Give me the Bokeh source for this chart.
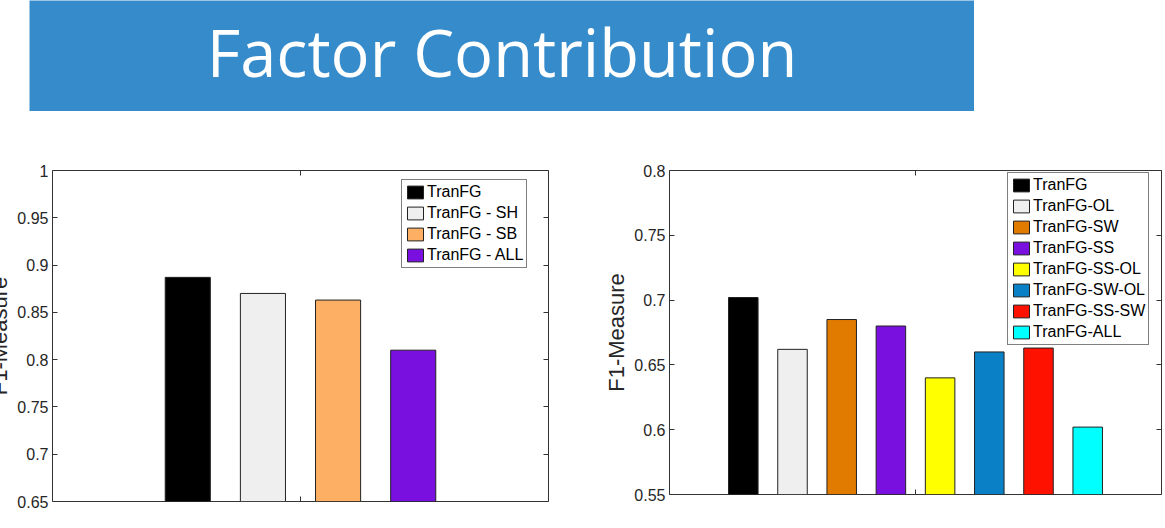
from bokeh.plotting import figure
from bokeh.layouts import column, row
from bokeh.models import (Range1d, FixedTicker, LinearAxis, Label, Spacer,
                          ColumnDataSource)
from bokeh.embed import file_html
from bokeh.resources import INLINE

# ---- data -------------------------------------------------------------
title_text = "Factor Contribution"
y_label = "F1-Measure"

left_names = ["TranFG", "TranFG - SH", "TranFG - SB", "TranFG - ALL"]
left_values = [0.887, 0.870, 0.863, 0.810]
left_colors = ["#000000", "#EFEFEF", "#FDB063", "#7A10E0"]
left_ticks = [0.65, 0.7, 0.75, 0.8, 0.85, 0.9, 0.95, 1.0]
left_tick_labels = ["0.65", "0.7", "0.75", "0.8", "0.85", "0.9", "0.95", "1"]

right_names = ["TranFG", "TranFG-OL", "TranFG-SW", "TranFG-SS",
               "TranFG-SS-OL", "TranFG-SW-OL", "TranFG-SS-SW", "TranFG-ALL"]
right_values = [0.702, 0.662, 0.685, 0.680, 0.640, 0.660, 0.663, 0.602]
right_colors = ["#000000", "#EFEFEF", "#E07B00", "#7A10E0",
                "#FFFF00", "#0A80C6", "#FF1100", "#00FFFF"]
right_ticks = [0.55, 0.6, 0.65, 0.7, 0.75, 0.8]
right_tick_labels = ["0.55", "0.6", "0.65", "0.7", "0.75", "0.8"]

AXIS_COLOR = "#333333"
TEXT_COLOR = "#262626"
FONT = "Liberation Sans"


def tick_only_axis(ticks):
    """Axis that only draws inward tick marks (box-style mirrored ticks)."""
    ax = LinearAxis(ticker=FixedTicker(ticks=ticks))
    ax.major_label_text_font_size = "1px"
    ax.major_label_text_color = None
    ax.major_label_standoff = 0
    ax.major_tick_in = 5
    ax.major_tick_out = 0
    ax.minor_tick_in = 0
    ax.minor_tick_out = 0
    ax.axis_line_color = None
    ax.major_tick_line_color = AXIS_COLOR
    return ax


def bar_chart(names, values, colors, ticks, tick_labels, x_half,
              frame_w, frame_h, borders, legend_corner):
    n = len(values)
    xs = [i - (n - 1) / 2 for i in range(n)]
    src = ColumnDataSource(dict(x=xs, top=values, color=colors, name=names))

    p = figure(frame_width=frame_w, frame_height=frame_h,
               output_backend="svg", toolbar_location=None, tools="",
               x_range=Range1d(-x_half, x_half),
               y_range=Range1d(ticks[0], ticks[-1]),
               x_axis_type=None, y_axis_type=None,
               min_border_left=borders[0], min_border_right=borders[1],
               min_border_top=borders[2], min_border_bottom=borders[3])
    p.grid.visible = False
    p.outline_line_color = AXIS_COLOR
    p.outline_line_width = 1
    p.background_fill_color = "white"
    p.border_fill_color = "white"

    p.vbar(x="x", top="top", bottom=0, width=0.6, source=src,
           fill_color="color", line_color="#222222", line_width=1,
           legend_field="name")

    # value axis with labels
    yax = LinearAxis(ticker=FixedTicker(ticks=ticks))
    yax.major_label_overrides = {t: s for t, s in zip(ticks, tick_labels)}
    yax.major_label_text_font = FONT
    yax.major_label_text_font_size = "16px"
    yax.major_label_text_color = TEXT_COLOR
    yax.major_label_standoff = 4
    yax.major_tick_in = 5
    yax.major_tick_out = 0
    yax.minor_tick_in = 0
    yax.minor_tick_out = 0
    yax.axis_line_color = None
    yax.major_tick_line_color = AXIS_COLOR
    yax.axis_label = y_label
    yax.axis_label_text_font = FONT
    yax.axis_label_text_font_size = "22px"
    yax.axis_label_text_font_style = "normal"
    yax.axis_label_text_color = TEXT_COLOR
    yax.axis_label_standoff = 2
    p.add_layout(yax, "left")

    # mirrored ticks on the remaining sides
    p.add_layout(tick_only_axis(ticks), "right")
    p.add_layout(tick_only_axis([0]), "below")
    p.add_layout(tick_only_axis([0]), "above")

    lg = p.legend[0]
    lg.location = legend_corner
    lg.margin = 0
    lg.padding = 3
    lg.spacing = 3
    lg.label_standoff = 2
    lg.glyph_width = 20
    lg.glyph_height = 16
    lg.label_height = 16
    lg.label_text_font = FONT
    lg.label_text_font_size = "16px"
    lg.label_text_color = "#000000"
    lg.border_line_color = "#000000"
    lg.border_line_width = 1
    lg.background_fill_color = "white"
    lg.background_fill_alpha = 1.0
    return p


# ---- banner -----------------------------------------------------------
banner = figure(width=945, height=111, output_backend="svg",
                toolbar_location=None, tools="",
                x_range=Range1d(0, 1), y_range=Range1d(0, 1),
                x_axis_type=None, y_axis_type=None, min_border=0)
banner.grid.visible = False
banner.outline_line_color = None
banner.background_fill_color = "#368CCB"
banner.border_fill_color = "#368CCB"
banner.add_layout(Label(x=0.5, y=0.54, text=title_text,
                        text_align="center", text_baseline="middle",
                        text_font="Open Sans", text_font_size="65px",
                        text_color="white"))

# ---- charts -----------------------------------------------------------
left = bar_chart(left_names, left_values, left_colors, left_ticks,
                 left_tick_labels, 3.3, 496, 331, (75, 12, 59, 27),
                 (349, 233))
left.styles = {"margin-left": "-23px"}

right = bar_chart(right_names, right_values, right_colors, right_ticks,
                  right_tick_labels, 5.0, 492, 324, (109, 4, 59, 34),
                  (338, 149))

page = column(row(Spacer(width=29, height=111), banner),
              row(left, right))

with open("out.html", "w") as f:
    f.write(file_html(page, INLINE))
